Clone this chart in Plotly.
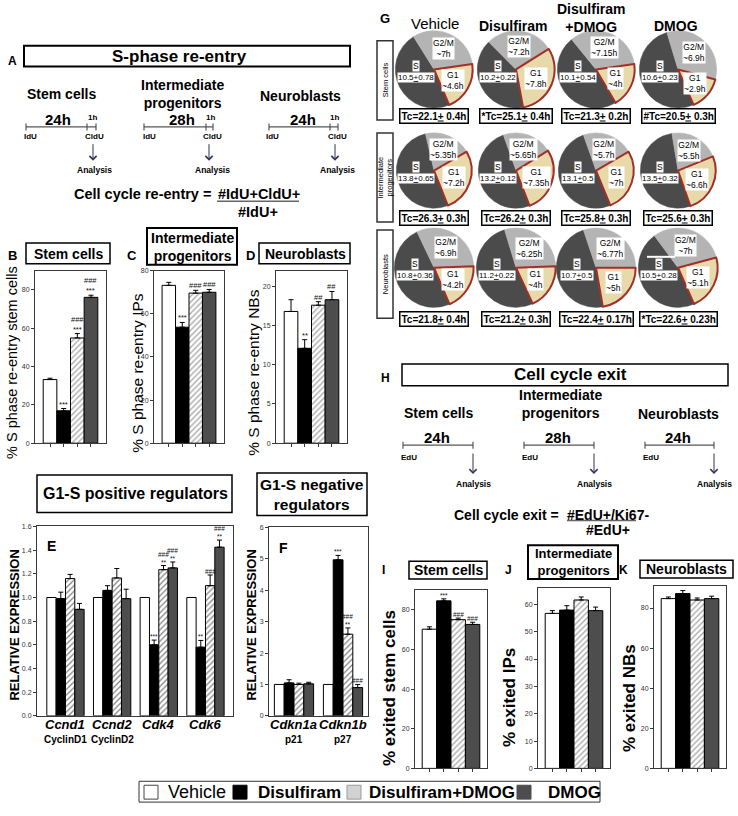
import math
import plotly.graph_objects as go

W, H = 738, 816
FONT = "Liberation Sans, Arial, Helvetica, sans-serif"
NARROW = "Liberation Sans, Arial, sans-serif"
AX = "#3a3a3a"
S_COL, G2_COL, G1_COL, G1_EDGE = "#4b4b4b", "#b4b4b4", "#e7d9a9", "#a0302a"
FILLS = ["white", "black", "white", "#4d4d4d"]
PATS = ["", "", "/", ""]

# ---------------- data ----------------
treatments = ["Vehicle", "Disulfiram", "Disulfiram+DMOG", "DMOG"]

# S-phase re-entry (B, C, D)
reentry_stem = [33.2, 16.9, 54.9, 76.1]
reentry_stem_err = [0.7, 1.2, 2.3, 1.1]
reentry_stem_sig = ["", "***", "###<br>***", "###<br>***"]
reentry_ip = [73.2, 53.8, 69.6, 70.0]
reentry_ip_err = [1.4, 2.2, 1.3, 1.3]
reentry_ip_sig = ["", "***", "###", "###"]
reentry_nb = [16.8, 12.1, 17.6, 18.3]
reentry_nb_err = [1.5, 1.1, 0.45, 1.05]
reentry_nb_sig = ["", "**", "##", "##"]

# G1-S positive regulators (E)
pos_genes = ["Ccnd1", "Ccnd2", "Cdk4", "Cdk6"]
pos_proteins = ["CyclinD1", "CyclinD2", "", ""]
pos_vehicle = [1.0, 1.0, 1.0, 1.0]
pos_disulfiram = [0.99, 1.06, 0.60, 0.58]
pos_combo = [1.16, 1.165, 1.235, 1.10]
pos_dmog = [0.90, 0.99, 1.25, 1.425]
pos_vehicle_err = [0, 0, 0, 0]
pos_disulfiram_err = [0.055, 0.04, 0.04, 0.057]
pos_combo_err = [0.035, 0.08, 0.035, 0.09]
pos_dmog_err = [0.05, 0.08, 0.05, 0.06]
pos_vehicle_sig = ["", "", "", ""]
pos_disulfiram_sig = ["", "", "***", "**"]
pos_combo_sig = ["", "", "###<br>**", "###"]
pos_dmog_sig = ["", "", "###<br>**", "###<br>**"]

# G1-S negative regulators (F)
neg_genes = ["Cdkn1a", "Cdkn1b"]
neg_proteins = ["p21", "p27"]
neg_vehicle = [1.0, 1.0]
neg_disulfiram = [1.05, 4.97]
neg_combo = [1.0, 2.6]
neg_dmog = [1.02, 0.9]
neg_vehicle_err = [0, 0]
neg_disulfiram_err = [0.1, 0.14]
neg_combo_err = [0.04, 0.2]
neg_dmog_err = [0.05, 0.1]
neg_vehicle_sig = ["", ""]
neg_disulfiram_sig = ["", "***"]
neg_combo_sig = ["", "###<br>**"]
neg_dmog_sig = ["", "###"]

# Cell cycle exit (I, J, K)
exit_stem = [70.2, 84.5, 75.0, 72.6]
exit_stem_err = [1.2, 1.0, 0.8, 1.1]
exit_stem_sig = ["", "***", "###", "###"]
exit_ip = [56.7, 57.9, 61.6, 57.7]
exit_ip_err = [1.0, 1.6, 1.1, 1.3]
exit_ip_sig = ["", "", "", ""]
exit_nb = [84.7, 87.2, 84.0, 84.7]
exit_nb_err = [0.8, 1.5, 1.0, 1.2]
exit_nb_sig = ["", "", "", ""]

# Cell cycle phase lengths (G), rows: stem cells, IPs, neuroblasts
pie_rows = ["Stem cells", "Intermediate<br>progenitors", "Neuroblasts"]
pie_cols = ["Vehicle", "Disulfiram", "Disulfiram<br>+DMOG", "DMOG"]
g1_h = [[4.6, 7.8, 4, 2.9], [7.2, 7.35, 7, 6.6], [4.2, 4, 5, 5.1]]
s_h = [[10.5, 10.2, 10.1, 10.6], [13.8, 13.2, 13.1, 13.5], [10.8, 11.2, 10.7, 10.5]]
s_err = [[0.78, 0.22, 0.54, 0.23], [0.65, 0.12, 0.5, 0.32], [0.36, 0.22, 0.5, 0.28]]
g2m_h = [[7, 7.2, 7.15, 6.9], [5.35, 5.65, 5.7, 5.5], [6.9, 6.25, 6.77, 7]]
tc_h = [[22.1, 25.1, 21.3, 20.5], [26.3, 26.2, 25.8, 25.6], [21.8, 21.2, 22.4, 22.6]]
tc_err = [[0.4, 0.4, 0.2, 0.3], [0.3, 0.3, 0.3, 0.3], [0.4, 0.3, 0.17, 0.23]]
tc_sig = [["", "*", "", "#"], ["", "", "", ""], ["", "", "", "*"]]

# ---------------- layout helpers ----------------
fig = go.Figure()
shapes, annots, axes = [], [], {}


def X(px):
    return px / W


def Y(py):
    return 1 - py / H


def wrap(s, tag):
    return "<br>".join(f"<{tag}>{p}</{tag}>" for p in s.split("<br>"))


def txt(x, y, s, size=12, bold=False, italic=False, xa="center", ya="middle",
        angle=0, family=FONT, color="black", **kw):
    if italic:
        s = wrap(s, "i")
    if bold:
        s = wrap(s, "b")
    d = dict(xref="paper", yref="paper", x=X(x), y=Y(y), text=s, showarrow=False,
             font=dict(size=size, family=family, color=color), xanchor=xa,
             yanchor=ya, textangle=angle)
    d.update(kw)
    annots.append(d)


def rect(x0, y0, x1, y1, lw=1.5, color="black", fill=None):
    shapes.append(dict(type="rect", xref="paper", yref="paper", x0=X(x0), x1=X(x1),
                       y0=Y(y0), y1=Y(y1), line=dict(color=color, width=lw),
                       fillcolor=fill if fill else "rgba(0,0,0,0)"))


def line(x0, y0, x1, y1, lw=1.0, color="black"):
    shapes.append(dict(type="line", xref="paper", yref="paper", x0=X(x0), x1=X(x1),
                       y0=Y(y0), y1=Y(y1), line=dict(color=color, width=lw)))


def arrow(x, y0, y1, color="#2e3556"):
    annots.append(dict(xref="paper", yref="paper", x=X(x), y=Y(y1), ax=0,
                       ay=-(y1 - y0), text="", showarrow=True, arrowhead=4,
                       arrowsize=1.4, arrowwidth=1, arrowcolor=color))


def timeline(x0, x1, y, marks, color="#555"):
    line(x0, y, x1, y, 1.2, color)
    for m in [x0] + marks + [x1]:
        line(m, y - 3.5, m, y + 3.5, 1.2, color)


def setup_axes(n, x0, x1, y0, y1, xrange, yrange, dtick, tickvals, xticks=True, fmt=None):
    s = "" if n == 1 else str(n)
    axes[f"xaxis{s}"] = dict(domain=[X(x0), X(x1)], range=xrange, anchor=f"y{s}",
                             showline=True, mirror=True, linecolor=AX, linewidth=1,
                             ticks="outside" if xticks else "", ticklen=3, tickcolor=AX,
                             tickvals=tickvals, ticktext=[""] * len(tickvals),
                             showgrid=False, zeroline=False, fixedrange=True)
    axes[f"yaxis{s}"] = dict(domain=[Y(y1), Y(y0)], range=yrange, anchor=f"x{s}",
                             showline=True, mirror=True, linecolor=AX, linewidth=1,
                             ticks="outside", ticklen=3, tickcolor=AX, dtick=dtick, tick0=0,
                             tickfont=dict(size=7, family=FONT, color="#333"),
                             tickformat=fmt, showgrid=False, zeroline=False, fixedrange=True)
    return s


def simple_bars(n, vals, errs, sig, sigsize=7.5):
    s = "" if n == 1 else str(n)
    fig.add_trace(go.Bar(
        x=list(range(len(vals))), y=vals, width=1, xaxis=f"x{s}", yaxis=f"y{s}",
        marker=dict(color=FILLS, line=dict(color="black", width=1),
                    pattern=dict(shape=PATS, fgcolor="black", bgcolor=FILLS, size=4, solidity=0.3)),
        error_y=dict(type="data", symmetric=False, array=errs, arrayminus=[0] * len(vals),
                     color="black", thickness=1, width=2.5),
        showlegend=False, hoverinfo="skip"))
    for i, (v, e, t) in enumerate(zip(vals, errs, sig)):
        if t:
            annots.append(dict(xref=f"x{s}", yref=f"y{s}", x=i, y=v + e, text=t,
                               showarrow=False, yanchor="bottom", yshift=-2,
                               font=dict(size=sigsize, family=FONT, color="#111")))


def grouped_bars(n, series, errs, sigs, sigsize=6.5):
    s = "" if n == 1 else str(n)
    for k in range(4):
        xs = list(range(len(series[k])))
        fig.add_trace(go.Bar(
            x=xs, y=series[k], width=0.2, offset=-0.4 + 0.2 * k,
            xaxis=f"x{s}", yaxis=f"y{s}",
            marker=dict(color=FILLS[k], line=dict(color="black", width=1),
                        pattern=dict(shape=PATS[k], fgcolor="black", bgcolor=FILLS[k],
                                     size=4, solidity=0.3)),
            error_y=dict(type="data", symmetric=False, array=errs[k],
                         arrayminus=[0] * len(xs), color="black", thickness=1, width=2.5,
                         visible=any(e > 0 for e in errs[k])),
            showlegend=False, hoverinfo="skip"))
        for g, (v, e, t) in enumerate(zip(series[k], errs[k], sigs[k])):
            if t:
                annots.append(dict(xref=f"x{s}", yref=f"y{s}", x=g - 0.3 + 0.2 * k, y=v + e,
                                   text=t, showarrow=False, yanchor="bottom", yshift=-2,
                                   font=dict(size=sigsize, family=FONT, color="#111")))


# ---------------- Panel A ----------------
txt(13, 57, "A", 12, bold=True)
rect(24, 42, 350, 63, lw=2)
txt(179, 53, "S-phase re-entry", 17, bold=True)
txt(61, 91, "Stem cells", 14, bold=True)
txt(182, 91, "Intermediate<br>progenitors", 14, bold=True)
txt(300, 93, "Neuroblasts", 14, bold=True)
for (x0, x1, xm, lab, xl, xi, xc, xa) in [(26, 96, 87, "24h", 58, 30, 94, 93),
                                           (144, 213, 206, "28h", 182, 149, 212, 209),
                                           (269, 338, 330, "24h", 303, 272, 337, 335)]:
    timeline(x0, x1, 124, [xm])
    txt(xl, 117, lab, 15, bold=True)
    txt((xm + x1) / 2 + 0.5, 114, "1h", 8, bold=True)
    txt(xi, 134, "IdU", 8, bold=True)
    txt(xc, 134, "CldU", 8, bold=True)
    arrow(xa, 140, 158)
    txt(xc, 167, "Analysis", 8.5, bold=True)
txt(217, 192, "Cell cycle re-entry = ", 14.5, bold=True, xa="right")
txt(216, 192, "#IdU+CldU+", 14.5, bold=True, xa="left")
line(217, 199, 299, 199, 1.5, "#666")
txt(258, 210, "#IdU+", 14.5, bold=True)

# ---------------- Panels B, C, D ----------------
txt(13, 254, "B", 13, bold=True)
rect(26, 241, 110, 262)
txt(68, 252, "Stem cells", 14, bold=True)
txt(132, 254, "C", 13, bold=True)
rect(147, 226, 237, 263, lw=2)
txt(192, 245, "Intermediate<br>progenitors", 14, bold=True)
txt(250, 254, "D", 13, bold=True)
rect(259, 241, 350, 262)
txt(305, 252, "Neuroblasts", 14, bold=True)

setup_axes(1, 35, 106, 269, 443, [-1.1, 4.1], [0, 90], 20, [0, 1, 2, 3])
simple_bars(1, reentry_stem, reentry_stem_err, reentry_stem_sig)
setup_axes(2, 154, 224, 269, 443, [-1.1, 4.1], [0, 80], 20, [0, 1, 2, 3])
simple_bars(2, reentry_ip, reentry_ip_err, reentry_ip_sig)
setup_axes(3, 276, 347, 269, 443, [-1.1, 4.1], [0, 22], 5, [0, 1, 2, 3])
simple_bars(3, reentry_nb, reentry_nb_err, reentry_nb_sig)
txt(12, 362, "% S phase re-entry stem cells", 14.5, angle=-90)
txt(138, 372, "% S phase re-entry IPs", 15.5, angle=-90)
txt(254, 372, "% S phase re-entry NBs", 15.5, angle=-90)

# ---------------- Panels E, F ----------------
rect(37, 475, 232, 513)
txt(135, 494, "G1-S positive regulators", 16, bold=True)
rect(257, 473, 367, 516)
txt(312, 495, "G1-S negative<br>regulators", 15.5, bold=True)

setup_axes(4, 37, 233, 527, 718, [-0.61, 3.59], [0, 1.6], 0.2, [0, 1, 2, 3], xticks=False, fmt=".1f")
grouped_bars(4, [pos_vehicle, pos_disulfiram, pos_combo, pos_dmog],
             [pos_vehicle_err, pos_disulfiram_err, pos_combo_err, pos_dmog_err],
             [pos_vehicle_sig, pos_disulfiram_sig, pos_combo_sig, pos_dmog_sig])
setup_axes(5, 269, 368, 528, 718, [-0.51, 1.51], [0, 6], 1, [0, 1], xticks=False)
grouped_bars(5, [neg_vehicle, neg_disulfiram, neg_combo, neg_dmog],
             [neg_vehicle_err, neg_disulfiram_err, neg_combo_err, neg_dmog_err],
             [neg_vehicle_sig, neg_disulfiram_sig, neg_combo_sig, neg_dmog_sig])
txt(52, 547, "E", 14, bold=True)
txt(283, 549, "F", 14, bold=True)
txt(15, 627, "RELATIVE EXPRESSION", 13, bold=True, angle=-90)
txt(252, 627, "RELATIVE EXPRESSION", 13, bold=True, angle=-90)
for i, (g, p) in enumerate(zip(pos_genes, pos_proteins)):
    xc = 37 + (i + 0.61) * (196 / 4.2)
    txt(xc, 727, g, 13, bold=True, italic=True)
    if p:
        txt(xc, 742, p, 10, bold=True)
for i, (g, p) in enumerate(zip(neg_genes, neg_proteins)):
    xc = 269 + (i + 0.51) * (99 / 2.02)
    txt(xc, 727, g, 13, bold=True, italic=True)
    txt(xc, 742, p, 10, bold=True)

# ---------------- Panel G (pies) ----------------
PIE_CX = [434, 516, 596, 678]
PIE_CY = [66, 168, 266]
PIE_R = [39, 38, 40]
TC_Y = [113, 216, 318]
G1_START = [[82, 58, 82, 105], [60, 58, 60, 68], [88, 88, 90, 75]]
txt(385, 15, "G", 13, bold=True)
txt(435, 20, pie_cols[0], 15)
txt(513, 22, pie_cols[1], 14, bold=True)
txt(591, 14, pie_cols[2], 14, bold=True)
txt(676, 22, pie_cols[3], 14, bold=True)
for (y0, y1), lab in zip([(37, 117), (130, 220), (228, 317)], pie_rows):
    rect(377, y0, 393, y1, lw=1.5, color="#333")
    txt(385, (y0 + y1) / 2, lab, 7.5, angle=-90, family=NARROW)


def polar(cx, cy, th, rho):
    return cx + rho * math.sin(math.radians(th)), cy - rho * math.cos(math.radians(th))


for r in range(3):
    for c in range(4):
        cx, cy, rad = PIE_CX[c], PIE_CY[r], PIE_R[r]
        g1, s, g2 = g1_h[r][c], s_h[r][c], g2m_h[r][c]
        tot = g1 + s + g2
        a0 = G1_START[r][c]
        g1d, sd, g2d = 360 * g1 / tot, 360 * s / tot, 360 * g2 / tot
        rot = (a0 + g1d) % 360
        if rot > 180:
            rot -= 360
        fig.add_trace(go.Pie(
            values=[s, g2, g1], labels=["S", "G2/M", "G1"], sort=False,
            direction="clockwise", rotation=rot,
            domain=dict(x=[X(cx - rad), X(cx + rad)], y=[Y(cy + rad), Y(cy - rad)]),
            marker=dict(colors=[S_COL, G2_COL, G1_COL],
                        line=dict(color=[S_COL, G2_COL, G1_EDGE], width=[0.5, 0.5, 2])),
            textinfo="none", hoverinfo="skip", showlegend=False))
        gx, gy = polar(cx, cy, a0 + g1d / 2, 0.56 * rad)
        txt(gx, gy, f"G1<br>~{g1:g}h", 8.5, family=NARROW, bgcolor="white", borderpad=0)
        hx, hy = polar(cx, cy, a0 + g1d + sd + g2d / 2, 0.6 * rad)
        txt(hx, hy, f"G2/M<br>~{g2:g}h", 8.5, family=NARROW, bgcolor="white", borderpad=0)
        txt(cx - 0.47 * rad, cy - 0.1 * rad, "S", 8.5, family=NARROW, bgcolor="white", borderpad=0)
        txt(cx - 0.47 * rad, cy + 0.2 * rad, f"{s:g}<u>+</u>{s_err[r][c]:g}", 8,
            family=NARROW, bgcolor="white", borderpad=0)
        txt(cx, TC_Y[r], f"{tc_sig[r][c]}Tc={tc_h[r][c]:g}<u>+</u> {tc_err[r][c]:g}h", 10,
            bold=True, family=NARROW, bgcolor="white", bordercolor="black",
            borderwidth=1.5, borderpad=1)
line(647, 255, 675, 255, 2, "white")

# ---------------- Panel H ----------------
txt(385, 377, "H", 12, bold=True)
rect(402, 363, 728, 385)
txt(570, 374, "Cell cycle exit", 17, bold=True)
txt(438, 413, "Stem cells", 14, bold=True)
txt(560, 403, "Intermediate<br>progenitors", 14, bold=True)
txt(678, 414, "Neuroblasts", 14, bold=True)
for (x0, x1, lab, xl) in [(403, 473, "24h", 437), (524, 594, "28h", 558), (645, 714, "24h", 678)]:
    timeline(x0, x1, 445, [])
    txt(xl, 437, lab, 15, bold=True)
    txt(x0 + 6, 457, "EdU", 8, bold=True)
    arrow(x1, 452, 474)
    txt(x1, 484, "Analysis", 8.5, bold=True)
txt(565, 515, "Cell cycle exit = ", 14, bold=True, xa="right")
txt(565, 515, "#EdU+/Ki67-", 14, bold=True, xa="left")
line(567, 521, 636, 521, 1.5, "#666")
txt(608, 531, "#EdU+", 14, bold=True)

# ---------------- Panels I, J, K ----------------
txt(383, 571, "I", 12, bold=True)
rect(409, 562, 487, 580)
txt(448, 571, "Stem cells", 14, bold=True)
txt(508, 571, "J", 12, bold=True)
rect(528, 546, 618, 580, lw=2)
txt(573, 563, "Intermediate<br>progenitors", 13, bold=True)
txt(623, 571, "K", 12, bold=True)
rect(640, 561, 733, 579)
txt(686, 570, "Neuroblasts", 14, bold=True)

setup_axes(6, 415, 487, 591, 771, [-1.0, 4.0], [0, 90], 20, [0, 1, 2, 3])
simple_bars(6, exit_stem, exit_stem_err, exit_stem_sig, sigsize=6.5)
setup_axes(7, 538, 610, 589, 771, [-1.0, 4.0], [0, 66], 10, [0, 1, 2, 3])
simple_bars(7, exit_ip, exit_ip_err, exit_ip_sig)
setup_axes(8, 654, 726, 587, 771, [-1.0, 4.0], [0, 91], 20, [0, 1, 2, 3])
simple_bars(8, exit_nb, exit_nb_err, exit_nb_sig)
txt(389, 690, "% exited stem cells", 17, bold=True, angle=-90)
txt(510, 700, "% exited IPs", 17, bold=True, angle=-90)
txt(630, 700, "% exited NBs", 17, bold=True, angle=-90)

# ---------------- Legend ----------------
rect(139, 784, 600, 805, lw=1, color="#333")
leg_sq = [(144, "white", "#444"), (233, "black", "black"), (347, "#d2d2d2", "#999"), (517, "#4d4d4d", "#4d4d4d")]
leg_tx = [(166, 18, False), (256, 17, True), (367, 17, True), (546, 17, True)]
for (sx, fc, lc), (tx, fs, b), name in zip(leg_sq, leg_tx, treatments):
    rect(sx, 788, sx + 14, 802, lw=1, color=lc, fill=fc)
    txt(tx, 795, name, fs, bold=b, xa="left")

fig.update_layout(width=W, height=H, autosize=False, margin=dict(l=0, r=0, t=0, b=0),
                  paper_bgcolor="white", plot_bgcolor="white", showlegend=False,
                  barmode="overlay", shapes=shapes, annotations=annots,
                  font=dict(family=FONT), **axes)
fig.write_html("out.html", config={"displayModeBar": False},
               post_script="document.body.style.margin='0';")
